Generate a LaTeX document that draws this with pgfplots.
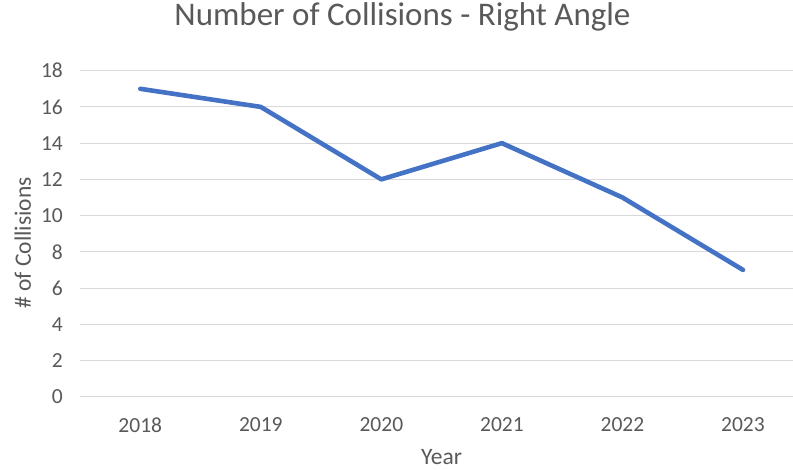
\documentclass[border=0pt]{standalone}
\usepackage{pgfplots}
\pgfplotsset{compat=1.18}
\usepackage{fontspec}
\setmainfont{Carlito}
\definecolor{txt}{HTML}{595959}
\definecolor{gridc}{HTML}{D9D9D9}
\definecolor{linec}{HTML}{4472C4}
\begin{document}
\begin{tikzpicture}
\begin{axis}[
  scale only axis, width=713bp, height=326bp,
  xmin=-0.5, xmax=5.415, ymin=0, ymax=18,
  ytick={0,2,...,18},
  xtick={0,1,2,3,4,5},
  xticklabels={2018,2019,2020,2021,2022,2023},
  axis line style={draw=none},
  tick style={draw=none},
  ymajorgrids, grid style={gridc, line width=0.9bp},
  /pgf/number format/assume math mode=true,
  ticklabel style={font=\fontsize{21.5bp}{25bp}\selectfont, text=txt, inner sep=0pt},
  yticklabel style={xshift=-17bp},
  xticklabel style={yshift=-21bp},
  title={Number of Collisions - Right Angle},
  title style={at={(axis description cs:0.5,1)}, anchor=base, yshift=39bp, xshift=-34bp,
    font=\fontsize{33bp}{38bp}\selectfont, text=txt, inner sep=0pt},
  xlabel={Year},
  xlabel style={at={(axis description cs:0.5,0)}, anchor=base, yshift=-68bp, xshift=5bp,
    font=\fontsize{23.5bp}{28bp}\selectfont, text=txt, inner sep=0pt},
  ylabel={\# of Collisions},
  every axis y label/.style={at={(axis description cs:0,0.5)}, xshift=-49bp, yshift=-9.3bp,
    rotate=90, anchor=base, inner sep=0pt,
    font=\fontsize{23.5bp}{28bp}\selectfont, text=txt},
]
\addplot[linec, line width=4.6bp, line join=round, line cap=round] coordinates {
  (0,17) (1,16) (2,12) (3,14) (4,11) (5,7)
};
\coordinate (ll) at (rel axis cs:0,0);
\end{axis}
\pgfresetboundingbox
\path[use as bounding box] (ll) ++(-80bp,-73.3bp) rectangle ++(793bp,470bp);
\end{tikzpicture}
\end{document}
